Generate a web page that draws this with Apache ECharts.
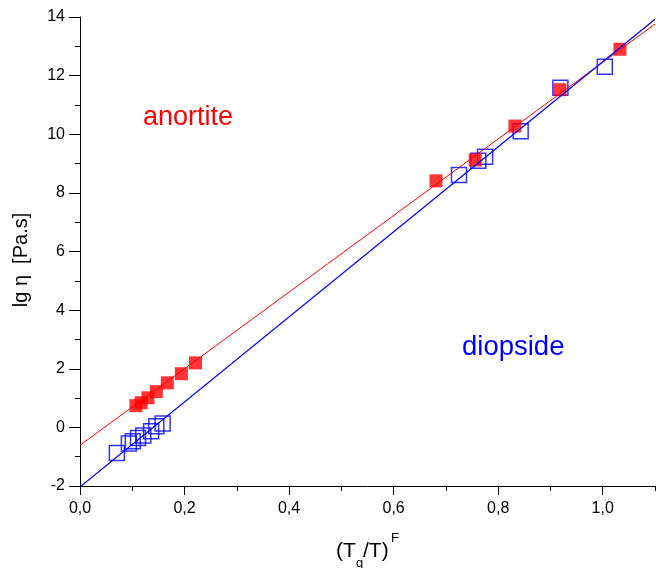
<!DOCTYPE html>
<html>
<head>
<meta charset="utf-8">
<script src="https://cdn.jsdelivr.net/npm/echarts@6/dist/echarts.min.js"></script>
<style>
html,body{margin:0;padding:0;background:#fff;}
#c{width:656px;height:568px;}
</style>
</head>
<body>
<div id="c"></div>
<script>
// ---- data ----
var anortiteX = [0.107, 0.117, 0.130, 0.146, 0.167, 0.194, 0.221, 0.681, 0.756, 0.832, 0.918, 1.033];
var anortiteY = [0.74, 0.84, 1.01, 1.22, 1.52, 1.83, 2.20, 8.41, 9.12, 10.28, 11.52, 12.90];
var diopsideX = [0.0705, 0.0935, 0.101, 0.111, 0.121, 0.136, 0.146, 0.158, 0.725, 0.762, 0.775, 0.843, 0.919, 1.004];
var diopsideY = [-0.87, -0.55, -0.47, -0.36, -0.28, -0.13, 0.04, 0.13, 8.61, 9.10, 9.23, 10.10, 11.59, 12.30];
// linear fit lines (end points)
var anortiteFitX = [0, 1.1];
var anortiteFitY = [-0.61, 13.76];
var diopsideFitX = [0, 1.1];
var diopsideFitY = [-2.03, 13.92];
// ticks
var xMajorTicks = [0, 0.2, 0.4, 0.6, 0.8, 1.0];
var xMinorTicks = [0.1, 0.3, 0.5, 0.7, 0.9, 1.1];
var yMajorTicks = [-2, 0, 2, 4, 6, 8, 10, 12, 14];
var yMinorTicks = [-1, 1, 3, 5, 7, 9, 11, 13];

function zip(a, b) { return a.map(function (v, i) { return [v, b[i]]; }); }

var FONT = '"Liberation Sans", Arial, sans-serif';
var chart = echarts.init(document.getElementById('c'), null, {renderer: 'canvas'});
var grid = {left: 80, right: 1, top: 17, bottom: 82};

var option = {
  animation: false,
  backgroundColor: '#fff',
  grid: grid,
  xAxis: [{
    type: 'value', min: 0, max: 1.1,
    axisLine: {show: true, onZero: false, lineStyle: {color: '#000', width: 1}},
    axisTick: {show: true, length: 9, customValues: xMajorTicks, lineStyle: {color: '#000', width: 1}},
    axisLabel: {show: true, customValues: xMajorTicks, margin: 15, color: '#000', fontSize: 16, fontFamily: FONT,
      formatter: function (v) { return v.toFixed(1).replace('.', ','); }},
    splitLine: {show: false}
  }, {
    type: 'value', min: 0, max: 1.1, position: 'bottom', gridIndex: 0,
    axisLine: {show: false, onZero: false},
    axisTick: {show: true, length: 5, customValues: xMinorTicks, lineStyle: {color: '#000', width: 1}},
    axisLabel: {show: false},
    splitLine: {show: false}
  }],
  yAxis: [{
    type: 'value', min: -2, max: 14,
    axisLine: {show: true, onZero: false, lineStyle: {color: '#000', width: 1}},
    axisTick: {show: true, length: 11, customValues: yMajorTicks, lineStyle: {color: '#000', width: 1}},
    axisLabel: {show: true, customValues: yMajorTicks, margin: 15, color: '#000', fontSize: 16, fontFamily: FONT},
    splitLine: {show: false}
  }, {
    type: 'value', min: -2, max: 14, position: 'left', gridIndex: 0,
    axisLine: {show: false, onZero: false},
    axisTick: {show: true, length: 5, customValues: yMinorTicks, lineStyle: {color: '#000', width: 1}},
    axisLabel: {show: false},
    splitLine: {show: false}
  }],
  series: [{
    name: 'diopside', type: 'scatter', symbol: 'rect', symbolSize: 15,
    data: zip(diopsideX, diopsideY),
    itemStyle: {color: 'rgba(0,0,0,0)', borderColor: '#0000ff', borderWidth: 1.5},
    z: 2
  }, {
    name: 'anortite', type: 'scatter', symbol: 'rect', symbolSize: 13,
    data: zip(anortiteX, anortiteY),
    itemStyle: {color: '#ff0000'},
    z: 3
  }, {
    name: 'anortite fit', type: 'line', showSymbol: false, symbol: 'none',
    data: zip(anortiteFitX, anortiteFitY),
    lineStyle: {color: '#ff0000', width: 1}, z: 4
  }, {
    name: 'diopside fit', type: 'line', showSymbol: false, symbol: 'none',
    data: zip(diopsideFitX, diopsideFitY),
    lineStyle: {color: '#0000ff', width: 1.3}, z: 5
  }],
  graphic: [
    {type: 'text', left: 143, top: 104, style: {text: 'anortite', fill: '#ff0000', font: '27px ' + FONT}},
    {type: 'text', left: 462, top: 333, style: {text: 'diopside', fill: '#0000ff', font: '27.5px ' + FONT}},
    {type: 'text', x: 21, y: 260, rotation: Math.PI / 2,
      style: {text: 'lg \u03b7  [Pa.s]', fill: '#000', font: '20px ' + FONT, align: 'center', verticalAlign: 'middle'}},
    {type: 'text', x: 336, y: 551, style: {text: '(T', fill: '#000', font: '21px ' + FONT, align: 'left', verticalAlign: 'middle'}},
    {type: 'text', x: 356, y: 563, style: {text: 'g', fill: '#000', font: '13px ' + FONT, align: 'left', verticalAlign: 'middle'}},
    {type: 'text', x: 363, y: 551, style: {text: '/T)', fill: '#000', font: '21px ' + FONT, align: 'left', verticalAlign: 'middle'}},
    {type: 'text', x: 391, y: 538, style: {text: 'F', fill: '#000', font: '13px ' + FONT, align: 'left', verticalAlign: 'middle'}}
  ]
};
chart.setOption(option);
</script>
</body>
</html>
